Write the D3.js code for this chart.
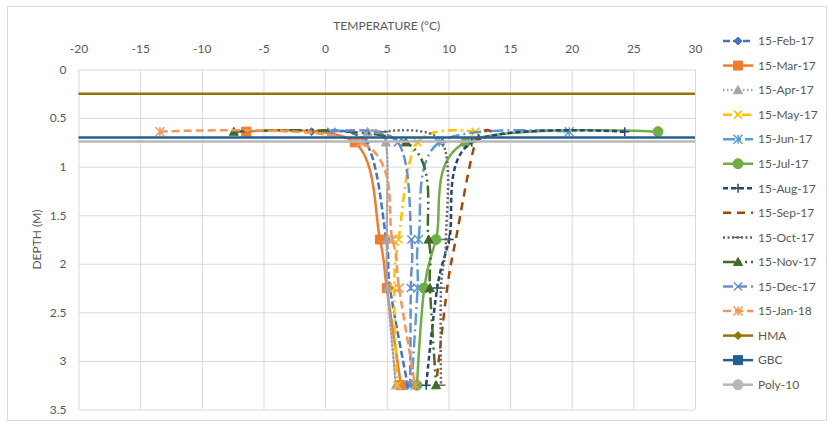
<!DOCTYPE html>
<html>
<head>
<meta charset="utf-8">
<script src="https://cdn.jsdelivr.net/npm/d3@7"></script>
<style>
  html, body { margin: 0; padding: 0; background: #fff; }
  svg { display: block; font-family: Lato, "Open Sans", sans-serif; }
</style>
</head>
<body>
<svg id="chart" width="827" height="423"></svg>
<script>
// Measurement depths (m) for each monthly temperature profile
const depths = [0.64, 0.75, 1.75, 2.25, 3.25];

// Temperature (°C) at each depth, one array per reading date
const feb17 = [-1.1, 3.3, 4.96, 5.26, 6.7];
const mar17 = [-6.4, 2.4, 4.45, 5.0, 6.15];
const apr17 = [3.45, 4.93, 5.0, 5.06, 5.75];
const may17 = [12.2, 7.5, 5.96, 5.6, 5.85];
const jun17 = [19.8, 9.25, 7.58, 7.5, 7.0];
const jul17 = [27.0, 11.4, 9.0, 8.04, 7.45];
const aug17 = [24.3, 11.9, 10.06, 9.09, 8.2];
const sep17 = [13.5, 12.2, 10.6, 9.9, 9.0];
const oct17 = [4.8, 9.5, 9.8, 9.4, 9.4];
const nov17 = [-7.4, 6.55, 8.4, 8.5, 9.0];
const dec17 = [0.5, 5.9, 7.0, 6.95, 6.9];
const jan18 = [-13.4, 2.9, 5.47, 6.0, 7.3];

const profileNames = ["15-Feb-17", "15-Mar-17", "15-Apr-17", "15-May-17", "15-Jun-17", "15-Jul-17",
  "15-Aug-17", "15-Sep-17", "15-Oct-17", "15-Nov-17", "15-Dec-17", "15-Jan-18"];
const profileValues = [feb17, mar17, apr17, may17, jun17, jul17, aug17, sep17, oct17, nov17, dec17, jan18];

// Pavement layer interfaces (depth, m), drawn across the full temperature range
const layerNames = ["HMA", "GBC", "Poly-10"];
const layerDepths = [0.25, 0.70, 0.74];
const layerSpan = [-20, 30];

// Axis ticks
const tempTicks = [-20, -15, -10, -5, 0, 5, 10, 15, 20, 25, 30];
const depthTicks = [0, 0.5, 1, 1.5, 2, 2.5, 3, 3.5];

// Styles
const profileStyles = [
  { color: "#4472C4", dash: "7,3",          marker: "diamond" },
  { color: "#ED7D31", dash: null,           marker: "square" },
  { color: "#A5A5A5", dash: "1.5,2.5",      marker: "triangle" },
  { color: "#FFC000", dash: "9,4,2,4",      marker: "x" },
  { color: "#5B9BD5", dash: "12,4,2,4",     marker: "star" },
  { color: "#70AD47", dash: null,           marker: "circle" },
  { color: "#264478", dash: "5,3",          marker: "plus" },
  { color: "#9E480E", dash: "8,6",          marker: "none" },
  { color: "#636363", dash: "2,2.5",        marker: "dash" },
  { color: "#43682B", dash: "12,4,2,4,2,4", marker: "triangle" },
  { color: "#698ED0", dash: "10,4",         marker: "x" },
  { color: "#F1975A", dash: "8,4",          marker: "star" }
];
const layerStyles = [
  { color: "#997300", marker: "diamond" },
  { color: "#255E91", marker: "square" },
  { color: "#B7B7B7", marker: "circle" }
];

const svg = d3.select("#chart");
const textColor = "#595959";
const gridColor = "#D9D9D9";

const x = d3.scaleLinear().domain([-20, 30]).range([78.5, 695]);
const y = d3.scaleLinear().domain([0, 3.5]).range([69.5, 409.5]);

// Chart area border
svg.append("rect")
  .attr("x", 7.5).attr("y", 6.5).attr("width", 819).attr("height", 414)
  .attr("fill", "none").attr("stroke", gridColor).attr("stroke-width", 1);

// Gridlines + tick labels through the axis generators
const xAxis = svg.append("g")
  .attr("transform", `translate(0,${y(0)})`)
  .call(d3.axisTop(x).tickValues(tempTicks).tickSize(-(y(3.5) - y(0))).tickPadding(17)
    .tickFormat(d => String(d)));
const yAxis = svg.append("g")
  .attr("transform", `translate(${x(-20)},0)`)
  .call(d3.axisLeft(y).tickValues(depthTicks).tickSize(-(x(30) - x(-20))).tickPadding(12)
    .tickFormat(d => String(d)));
[xAxis, yAxis].forEach(g => {
  g.select(".domain").remove();
  g.selectAll(".tick line").attr("stroke", gridColor).attr("stroke-width", 1);
  g.selectAll(".tick text").attr("fill", textColor).attr("font-size", 12)
    .attr("font-family", "Lato, 'Open Sans', sans-serif");
});

// Axis titles
svg.append("text")
  .attr("x", (x(-20) + x(30)) / 2).attr("y", 30)
  .attr("text-anchor", "middle").attr("fill", textColor).attr("font-size", 12)
  .text("TEMPERATURE (°C)");
svg.append("text")
  .attr("transform", `translate(41,${(y(0) + y(3.5)) / 2}) rotate(-90)`)
  .attr("text-anchor", "middle").attr("fill", textColor).attr("font-size", 12)
  .text("DEPTH (M)");

// Marker shapes
function markerPath(type, s) {
  const h = s / 2;
  switch (type) {
    case "diamond": return `M0,${-h}L${h},0L0,${h}L${-h},0Z`;
    case "square": return `M${-h},${-h}H${h}V${h}H${-h}Z`;
    case "triangle": return `M0,${-h}L${h},${h * 0.8}L${-h},${h * 0.8}Z`;
    case "circle": return `M${h},0A${h},${h} 0 1,1 ${-h},0A${h},${h} 0 1,1 ${h},0Z`;
    case "x": return `M${-h},${-h}L${h},${h}M${-h},${h}L${h},${-h}`;
    case "plus": return `M${-h},0H${h}M0,${-h}V${h}`;
    case "star": return `M${-h},${-h}L${h},${h}M${-h},${h}L${h},${-h}M0,${-h}V${h}`;
    case "dash": return `M${-h},0H${h}`;
    default: return "";
  }
}
const filled = t => ["diamond", "square", "triangle", "circle"].includes(t);
const markerSize = { diamond: 8, square: 9, triangle: 9, circle: 10, x: 8, plus: 9, star: 9, dash: 9 };

function drawMarker(g, type, color, cx, cy) {
  if (type === "none") return;
  g.append("path")
    .attr("d", markerPath(type, markerSize[type]))
    .attr("transform", `translate(${cx},${cy})`)
    .attr("fill", filled(type) ? color : "none")
    .attr("stroke", color)
    .attr("stroke-width", filled(type) ? 1 : 1.5);
}

const line = d3.line()
  .x(d => x(d[0]))
  .y(d => y(d[1]))
  .curve(d3.curveCardinal.tension(0));

const plot = svg.append("g");

// Temperature profiles
profileValues.forEach((vals, i) => {
  const st = profileStyles[i];
  const pts = vals.map((t, k) => [t, depths[k]]);
  plot.append("path")
    .datum(pts)
    .attr("d", line)
    .attr("fill", "none")
    .attr("stroke", st.color)
    .attr("stroke-width", 2.5)
    .attr("stroke-dasharray", st.dash)
    .attr("stroke-linecap", st.dash && st.dash.startsWith("1.5") ? "round" : "butt");
  pts.forEach(p => drawMarker(plot, st.marker, st.color, x(p[0]), y(p[1])));
});

// Layer interfaces
layerDepths.forEach((d, i) => {
  plot.append("path")
    .datum(layerSpan.map(t => [t, d]))
    .attr("d", d3.line().x(p => x(p[0])).y(p => y(p[1])))
    .attr("fill", "none")
    .attr("stroke", layerStyles[i].color)
    .attr("stroke-width", 2.5);
});

// Legend
const legendNames = profileNames.concat(layerNames);
const legendStyles = profileStyles.concat(layerStyles.map(s => ({ color: s.color, dash: null, marker: s.marker })));
const legend = svg.append("g");
legendNames.forEach((name, i) => {
  const ly = 41 + i * 24.55;
  const st = legendStyles[i];
  legend.append("line")
    .attr("x1", 723).attr("x2", 753).attr("y1", ly).attr("y2", ly)
    .attr("stroke", st.color).attr("stroke-width", 2.5)
    .attr("stroke-dasharray", st.dash);
  drawMarker(legend, st.marker, st.color, 738, ly);
  legend.append("text")
    .attr("x", 758).attr("y", ly).attr("dy", "0.35em")
    .attr("fill", textColor).attr("font-size", 12)
    .text(name);
});
</script>
</body>
</html>
